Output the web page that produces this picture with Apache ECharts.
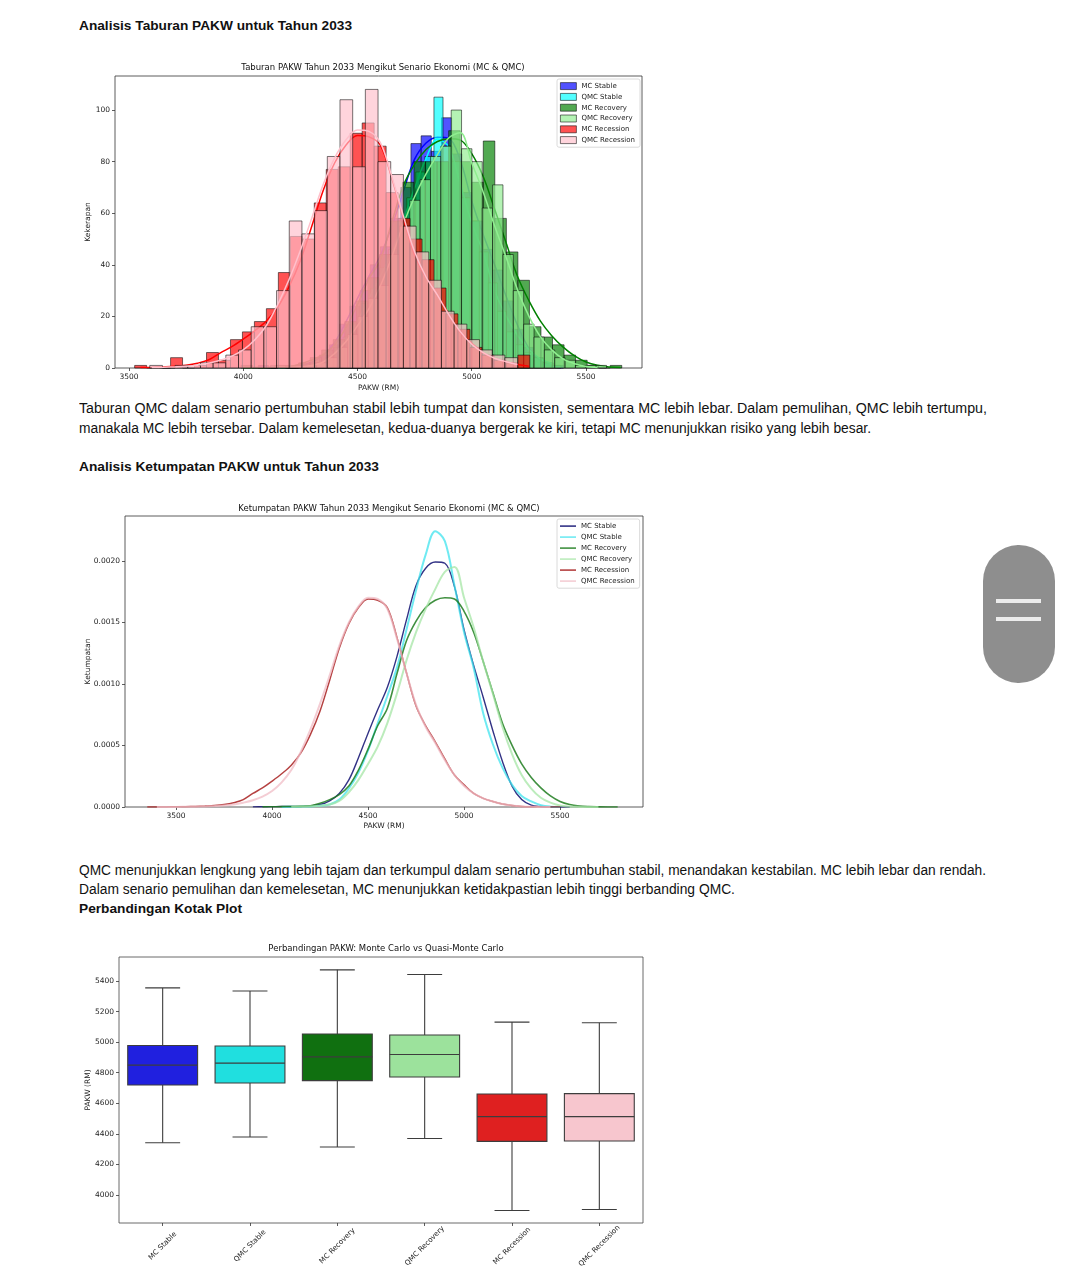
<!DOCTYPE html>
<html>
<head>
<meta charset="utf-8">
<script src="https://cdn.jsdelivr.net/npm/echarts@6.0.0/dist/echarts.min.js"></script>
<style>
  html, body { margin:0; padding:0; background:#fff; }
  body { width:1065px; height:1280px; position:relative; overflow:hidden; font-family:"Liberation Sans", Arial, sans-serif; color:#111; }
  .t { position:absolute; left:79px; white-space:nowrap; line-height:16px; font-size:14px; transform-origin:0 50%; }
  .h { font-weight:bold; font-size:13.5px; }
  .c { position:absolute; }
  #pill { position:absolute; left:983px; top:545px; width:72px; height:138px; border-radius:36px; background:#8e8e8e; }
  #pill div { position:absolute; left:13px; width:45px; height:4px; background:#ececec; }
</style>
</head>
<body>
<div class="t h" style="top:18px" data-w="273">Analisis Taburan PAKW untuk Tahun 2033</div>
<div class="c" id="c1" style="left:60px;top:50px;width:600px;height:350px"></div>
<div class="t" style="top:400px" data-w="908">Taburan QMC dalam senario pertumbuhan stabil lebih tumpat dan konsisten, sementara MC lebih lebar. Dalam pemulihan, QMC lebih tertumpu,</div>
<div class="t" style="top:420px" data-w="792">manakala MC lebih tersebar. Dalam kemelesetan, kedua-duanya bergerak ke kiri, tetapi MC menunjukkan risiko yang lebih besar.</div>
<div class="t h" style="top:459px" data-w="300">Analisis Ketumpatan PAKW untuk Tahun 2033</div>
<div class="c" id="c2" style="left:60px;top:490px;width:600px;height:345px"></div>
<div class="t" style="top:862px" data-w="907">QMC menunjukkan lengkung yang lebih tajam dan terkumpul dalam senario pertumbuhan stabil, menandakan kestabilan. MC lebih lebar dan rendah.</div>
<div class="t" style="top:881px" data-w="656">Dalam senario pemulihan dan kemelesetan, MC menunjukkan ketidakpastian lebih tinggi berbanding QMC.</div>
<div class="t h" style="top:901px" data-w="163">Perbandingan Kotak Plot</div>
<div class="c" id="c3" style="left:60px;top:930px;width:600px;height:348px"></div>
<div id="pill"><div style="top:54px"></div><div style="top:72px"></div></div>

<script>
// ---------------- DATA ----------------
const seriesNames = ['MC Stable','QMC Stable','MC Recovery','QMC Recovery','MC Recession','QMC Recession'];

// Histogram bins (PAKW, RM) and counts (Kekerapan)
const mcStableBinStart = 4066, mcStableBinWidth = 44.53;
const mcStableCounts = [1,0,0,0,1,2,5,9,17,24,30,40,47,58,70,87,90,84,97,83,68,57,46,38,26,15,8,4,2,1];
const qmcStableBinStart = 4120, qmcStableBinWidth = 39.7;
const qmcStableCounts = [1,0,0,1,1,2,4,8,12,17,25,31,39,46,57,66,76,82,105,86,80,66,57,45,33,22,14,9,6,4,2,1];
const mcRecoveryBinStart = 3990, mcRecoveryBinWidth = 50.5;
const mcRecoveryCounts = [1,0,0,1,1,2,4,7,11,18,26,35,44,57,72,80,80,80,92,80,72,88,58,45,34,16,12,9,5,3,1,0,1];
const qmcRecoveryBinStart = 4140, qmcRecoveryBinWidth = 45.3;
const qmcRecoveryCounts = [1,0,1,1,2,4,8,13,20,27,32,44,55,65,73,82,86,100,85,80,62,71,44,30,17,12,7,4,3,1,1,1];
const mcRecessionBinStart = 3525, mcRecessionBinWidth = 52.4;
const mcRecessionCounts = [1,0,0,4,0,1,6,3,11,14,18,23,37,51,50,64,77,78,91,95,86,68,58,50,42,31,21,15,8,5,3,2,5];
const qmcRecessionBinStart = 3591, qmcRecessionBinWidth = 55.5;
const qmcRecessionCounts = [1,0,1,1,2,2,5,7,16,16,30,57,52,61,82,104,78,108,80,75,55,45,34,22,17,11,7,5,4];

// Kernel density estimates (Ketumpatan, in units of 1e-4) on a PAKW grid
const densityX = [3350,3400,3450,3500,3550,3600,3650,3700,3750,3800,3850,3900,3950,4000,4050,4100,4150,4200,4250,4300,4350,4400,4450,4500,4550,4600,4650,4700,4750,4800,4850,4900,4950,5000,5050,5100,5150,5200,5250,5300,5350,5400,5450,5500,5550,5600,5650,5700,5750,5800,5850];
const mcStableDensity = [null,null,null,null,null,null,null,null,null,null,null,0.01,0.02,0.03,0.04,0.04,0.05,0.08,0.2,0.5,1.1,2.2,4.0,6.0,7.9,9.7,12.2,15.2,18.0,19.4,19.9,19.8,17.9,14.4,11.5,8.9,6.2,3.7,1.7,0.6,0.15,0.04,0.01,0,0,null,null,null,null,null,null];
const qmcStableDensity = [null,null,null,null,null,null,null,null,null,null,null,null,null,null,0.01,0.02,0.03,0.05,0.1,0.2,0.6,1.5,2.8,4.6,6.8,9.0,11.3,14.4,17.6,20.5,22.4,21.6,18.0,14.2,11.3,7.6,5.1,3.2,1.8,0.9,0.45,0.15,0.03,0,null,null,null,null,null,null,null];
const mcRecoveryDensity = [null,null,null,null,null,null,null,null,null,null,null,null,0.01,0.02,0.03,0.04,0.05,0.1,0.3,0.6,1.0,1.7,3.0,4.7,6.6,8.0,10.8,13.5,15.1,16.2,16.8,17.0,16.9,15.9,14.2,11.8,9.3,6.8,5.0,3.5,2.4,1.55,0.9,0.45,0.2,0.08,0.03,0.01,0,0,null];
const qmcRecoveryDensity = [null,null,null,null,null,null,null,null,null,null,null,null,null,null,null,0.02,0.04,0.06,0.1,0.2,0.5,1.2,2.2,3.5,4.9,6.8,9.2,11.9,14.2,16.1,17.7,19.1,19.5,17.0,14.6,11.8,9.2,6.5,4.3,2.6,1.5,0.75,0.35,0.12,0.04,0.01,0,0,null,null,null];
const mcRecessionDensity = [0,0,0.01,0.02,0.03,0.05,0.08,0.12,0.2,0.35,0.6,1.1,1.55,2.1,2.7,3.4,4.4,5.9,7.8,10.3,12.9,14.9,16.2,16.9,16.8,16.2,13.8,10.9,8.2,6.6,5.3,3.9,2.6,1.8,1.1,0.7,0.45,0.25,0.12,0.05,0.02,0.01,0,0,null,null,null,null,null,null,null];
const qmcRecessionDensity = [null,0,0.01,0.01,0.02,0.03,0.05,0.08,0.12,0.2,0.35,0.55,0.85,1.3,2.0,3.0,4.5,6.3,8.4,10.7,13.1,15.0,16.3,17.0,16.9,16.1,13.7,10.9,8.3,6.5,5.2,3.8,2.6,1.7,1.1,0.7,0.45,0.25,0.12,0.05,0.02,0,0,null,null,null,null,null,null,null,null];

// Box plot statistics (PAKW, RM)
const boxCategories = ['MC Stable','QMC Stable','MC Recovery','QMC Recovery','MC Recession','QMC Recession'];
const boxMin    = [4342, 4380, 4314, 4370, 3899, 3905];
const boxQ1     = [4720, 4733, 4748, 4772, 4351, 4353];
const boxMedian = [4850, 4863, 4904, 4919, 4513, 4513];
const boxQ3     = [4978, 4975, 5053, 5047, 4661, 4663];
const boxMax    = [5355, 5335, 5473, 5443, 5131, 5127];

const histTicksX = [3500,4000,4500,5000,5500];
const histTicksY = [0,20,40,60,80,100];
const densTicksY = [0,5,10,15,20];
const boxTicksY = [4000,4200,4400,4600,4800,5000,5200,5400];

// ---------------- STYLE ----------------
const FONT = 'DejaVu Sans';
const TXT = '#222';
const histColors = ['#0000ff','#00ffff','#008000','#90ee90','#ff0000','#ffc0cb'];
const densColors = ['#1c1c78','#3fe3ee','#1e7d1e','#a6e6a6','#a82020','#f0bcc6'];
const densWidths = [1.4,2,1.6,2,1.5,2];
const densOpac = [0.9,0.75,0.85,0.75,0.85,0.75];
const boxColors = ['#2020df','#20dfdf','#107010','#9ce29c','#df2020','#f7c6ce'];
const plain = v => String(v);

function axisCommon(ticks, fmt) {
  return {
    axisLine:{show:false},
    splitLine:{show:false},
    axisTick:{show:true, inside:false, length:3, lineStyle:{color:'#333', width:0.8}, customValues:ticks},
    axisLabel:{color:TXT, fontFamily:FONT, fontSize:7.5, margin:5, customValues:ticks, formatter:fmt || plain},
    nameTextStyle:{color:TXT, fontFamily:FONT, fontSize:7.5},
    nameMoveOverlap:false
  };
}
function titleOf(text, cx, top) {
  return {text, left:cx, top, textAlign:'center',
    textStyle:{fontFamily:FONT, fontSize:8.5, fontWeight:'normal', color:'#111'}};
}

// ---------------- CHART 1: histogram ----------------
const histDefs = [
  {counts:mcStableCounts, start:mcStableBinStart, width:mcStableBinWidth, dens:mcStableDensity},
  {counts:qmcStableCounts, start:qmcStableBinStart, width:qmcStableBinWidth, dens:qmcStableDensity},
  {counts:mcRecoveryCounts, start:mcRecoveryBinStart, width:mcRecoveryBinWidth, dens:mcRecoveryDensity},
  {counts:qmcRecoveryCounts, start:qmcRecoveryBinStart, width:qmcRecoveryBinWidth, dens:qmcRecoveryDensity},
  {counts:mcRecessionCounts, start:mcRecessionBinStart, width:mcRecessionBinWidth, dens:mcRecessionDensity},
  {counts:qmcRecessionCounts, start:qmcRecessionBinStart, width:qmcRecessionBinWidth, dens:qmcRecessionDensity}
];
const series1 = [];
histDefs.forEach((h, k) => {
  const color = histColors[k];
  const n = h.counts.reduce((a, b) => a + b, 0);
  const end = h.start + h.counts.length * h.width;
  series1.push({
    type:'custom', name:seriesNames[k], z:10 + k * 2,
    data:h.counts.map((c, i) => [h.start + i * h.width, h.start + (i + 1) * h.width, c]),
    encode:{x:[0,1], y:2},
    itemStyle:{color},
    renderItem:(params, api) => {
      const p0 = api.coord([api.value(0), api.value(2)]);
      const p1 = api.coord([api.value(1), 0]);
      return {type:'rect', shape:{x:p0[0], y:p0[1], width:p1[0]-p0[0], height:p1[1]-p0[1]},
        style:{fill:color, stroke:'#000', lineWidth:0.8, opacity:0.68}};
    }
  });
  const kde = [];
  densityX.forEach((x, i) => {
    if (x >= h.start && x <= end && h.dens[i] != null) kde.push([x, h.dens[i] * 1e-4 * n * h.width]);
  });
  series1.push({
    type:'line', name:seriesNames[k] + ' kde', z:11 + k * 2, symbol:'none', smooth:0.35,
    data:kde, lineStyle:{color, width:1.5}
  });
});

const c1 = echarts.init(document.getElementById('c1'), null, {renderer:'canvas'});
c1.setOption({
  animation:false,
  title:titleOf('Taburan PAKW Tahun 2033 Mengikut Senario Ekonomi (MC & QMC)', 318, 8),
  grid:{left:55, top:26, width:527, height:292, show:true, borderColor:'#333', borderWidth:0.8},
  legend:{
    orient:'vertical', left:497, top:29, itemWidth:16, itemHeight:7, itemGap:2.6,
    backgroundColor:'#fff', borderColor:'#d0d0d0', borderWidth:0.8, borderRadius:2, padding:[3,5,3,3],
    textStyle:{fontFamily:FONT, fontSize:7, color:TXT, lineHeight:8.2},
    data:seriesNames.map((nm, k) => ({name:nm, icon:'rect',
      itemStyle:{color:histColors[k], opacity:0.68, borderColor:'#000', borderWidth:0.8}}))
  },
  xAxis:Object.assign(axisCommon(histTicksX), {type:'value', min:3439, max:5745,
    name:'PAKW (RM)', nameLocation:'middle', nameGap:16}),
  yAxis:Object.assign(axisCommon(histTicksY), {type:'value', min:0, max:113.2,
    name:'Kekerapan', nameLocation:'middle', nameGap:23}),
  series:series1
});

// ---------------- CHART 2: density ----------------
const densSets = [mcStableDensity, qmcStableDensity, mcRecoveryDensity, qmcRecoveryDensity, mcRecessionDensity, qmcRecessionDensity];
const series2 = densSets.map((d, k) => ({
  type:'line', name:seriesNames[k], z:10 + k, symbol:'none', smooth:0.35,
  data:densityX.map((x, i) => d[i] == null ? null : [x, d[i]]).filter(p => p),
  lineStyle:{color:densColors[k], width:densWidths[k], opacity:densOpac[k]},
  itemStyle:{color:densColors[k]}
}));
const c2 = echarts.init(document.getElementById('c2'), null, {renderer:'canvas'});
c2.setOption({
  animation:false,
  title:titleOf('Ketumpatan PAKW Tahun 2033 Mengikut Senario Ekonomi (MC & QMC)', 324, 9),
  grid:{left:65, top:26, width:518, height:292, show:true, borderColor:'#333', borderWidth:0.8},
  legend:{
    orient:'vertical', left:497, top:29, itemWidth:16, itemHeight:1.6, itemGap:2.8,
    backgroundColor:'#fff', borderColor:'#d0d0d0', borderWidth:0.8, borderRadius:2, padding:[3,5,3,3],
    textStyle:{fontFamily:FONT, fontSize:7, color:TXT, lineHeight:8.2},
    data:seriesNames.map((nm, k) => ({name:nm, icon:'rect',
      itemStyle:{color:densColors[k], opacity:densOpac[k], borderWidth:0}}))
  },
  xAxis:Object.assign(axisCommon(histTicksX), {type:'value', min:3234, max:5932,
    name:'PAKW (RM)', nameLocation:'middle', nameGap:15}),
  yAxis:Object.assign(axisCommon(densTicksY, v => (v / 1e4).toFixed(4)), {type:'value', min:0, max:23.64,
    name:'Ketumpatan', nameLocation:'middle', nameGap:33}),
  series:series2
});

// ---------------- CHART 3: box plot ----------------
const c3 = echarts.init(document.getElementById('c3'), null, {renderer:'canvas'});
c3.setOption({
  animation:false,
  title:titleOf('Perbandingan PAKW: Monte Carlo vs Quasi-Monte Carlo', 321, 9),
  grid:{left:59, top:27, width:524, height:266, show:true, borderColor:'#444', borderWidth:0.8},
  xAxis:{type:'category', data:boxCategories,
    axisLine:{show:false}, splitLine:{show:false},
    axisTick:{show:true, alignWithLabel:true, length:3, lineStyle:{color:'#333', width:0.8}},
    axisLabel:{color:TXT, fontFamily:FONT, fontSize:7.2, rotate:45, align:'center', verticalAlign:'middle', margin:23}},
  yAxis:Object.assign(axisCommon(boxTicksY), {type:'value', min:3817, max:5557,
    name:'PAKW (RM)', nameLocation:'middle', nameGap:27}),
  series:[{
    type:'custom', name:'PAKW',
    data:boxCategories.map((c, i) => [i, boxMin[i], boxQ1[i], boxMedian[i], boxQ3[i], boxMax[i]]),
    encode:{x:0, y:[1,2,3,4,5]},
    renderItem:(params, api) => {
      const i = api.value(0);
      const lo = api.coord([i, api.value(1)]), q1 = api.coord([i, api.value(2)]),
            md = api.coord([i, api.value(3)]), q3 = api.coord([i, api.value(4)]),
            hi = api.coord([i, api.value(5)]);
      const bw = api.size([1, 0])[0] * 0.8;
      const cx = lo[0];
      const ls = {stroke:'#3d3d3d', lineWidth:1.1};
      return {type:'group', children:[
        {type:'line', shape:{x1:cx, y1:q1[1], x2:cx, y2:lo[1]}, style:ls},
        {type:'line', shape:{x1:cx, y1:q3[1], x2:cx, y2:hi[1]}, style:ls},
        {type:'line', shape:{x1:cx - bw/4, y1:lo[1], x2:cx + bw/4, y2:lo[1]}, style:ls},
        {type:'line', shape:{x1:cx - bw/4, y1:hi[1], x2:cx + bw/4, y2:hi[1]}, style:ls},
        {type:'rect', shape:{x:cx - bw/2, y:q3[1], width:bw, height:q1[1] - q3[1]},
          style:{fill:boxColors[params.dataIndex], stroke:'#3d3d3d', lineWidth:1.1}},
        {type:'line', shape:{x1:cx - bw/2, y1:md[1], x2:cx + bw/2, y2:md[1]}, style:ls}
      ]};
    }
  }]
});

// fit page text lines to the widths in the reference
document.querySelectorAll('[data-w]').forEach(el => {
  const target = +el.dataset.w;
  const w = el.getBoundingClientRect().width;
  el.style.transform = 'scaleX(' + (target / w).toFixed(4) + ')';
});
</script>
</body>
</html>
